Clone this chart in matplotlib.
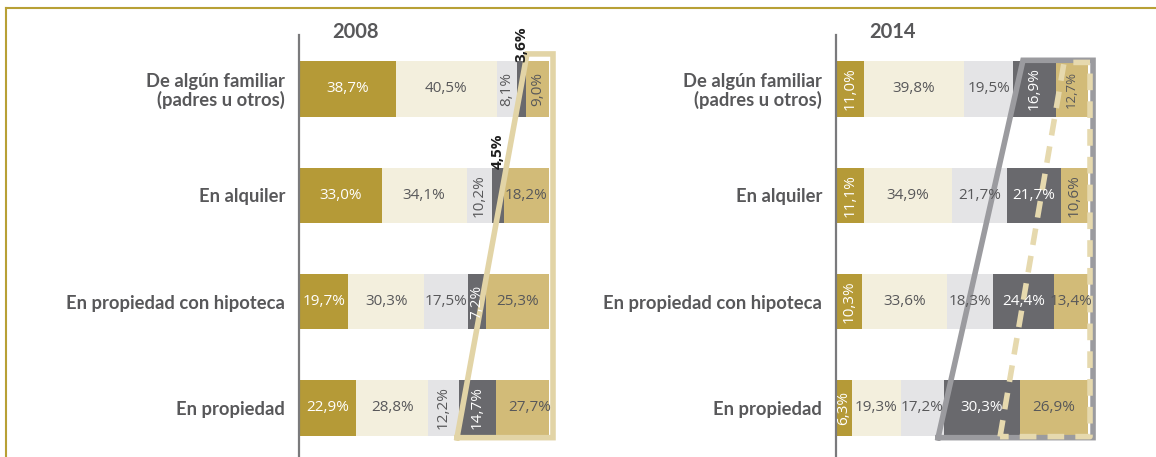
import numpy as np
import matplotlib.pyplot as plt
from matplotlib.lines import Line2D

# data
categories = ["De algún familiar\n(padres u otros)", "En alquiler",
              "En propiedad con hipoteca", "En propiedad"]
years = ["2008", "2014"]
vals_2008 = [[38.7, 40.5, 8.1, 3.6, 9.0],
             [33.0, 34.1, 10.2, 4.5, 18.2],
             [19.7, 30.3, 17.5, 7.2, 25.3],
             [22.9, 28.8, 12.2, 14.7, 27.7]]
vals_2014 = [[11.0, 39.8, 19.5, 16.9, 12.7],
             [11.1, 34.9, 21.7, 21.7, 10.6],
             [10.3, 33.6, 18.3, 24.4, 13.4],
             [6.3, 19.3, 17.2, 30.3, 26.9]]

# decorative outlines, in (percent, row) units
outline_2008 = [(63.2, 3.28), (91.2, -0.33), (101.6, -0.33), (101.6, 3.28)]
outline_2014_gray = [(40.5, 3.28), (74.2, -0.27), (102.0, -0.27), (102.0, 3.28)]
outline_2014_dash = [(65.1, 3.27), (90.5, -0.25), (100.8, -0.25), (100.8, 3.27)]

seg_colors = ['#B59A37', '#F3EFDD', '#E4E4E6', '#69696D', '#D2BB78']
txt_colors = ['white', '#58585A', '#58585A', 'white', '#58585A']
rot_2008 = [[0, 0, 1, 1, 1], [0, 0, 1, 1, 0], [0, 0, 0, 1, 0], [0, 0, 1, 1, 0]]
rot_2014 = [[1, 0, 0, 1, 1], [1, 0, 0, 0, 1], [1, 0, 0, 0, 0], [1, 0, 0, 0, 0]]

plt.rcParams['font.family'] = ['Lato', 'DejaVu Sans']
num_font = ['Open Sans', 'DejaVu Sans']

W, H = 1156, 457
fig = plt.figure(figsize=(W / 100, H / 100), dpi=100)

# gold frame (top + left)
frame_c = '#B8A035'
fig.add_artist(Line2D([6 / W, 1], [1 - 8 / H, 1 - 8 / H], color=frame_c, lw=1.5))
fig.add_artist(Line2D([6 / W, 6 / W], [0, 1 - 8 / H], color=frame_c, lw=1.5))

row_px = 106.3
top_row = (35 - 89) / row_px
bot_row = (457 - 89) / row_px


def panel(x0, x1, vals, year):
    ax = fig.add_axes([x0 / W, 0, (x1 - x0) / W, (457 - 35) / H])
    vals = np.array(vals)
    rows = np.arange(len(categories))
    left = np.zeros(len(categories))
    for j in range(vals.shape[1]):
        ax.barh(rows, vals[:, j], left=left, height=0.52, color=seg_colors[j], zorder=2)
        left += vals[:, j]
    ax.set_xlim(0, 100)
    ax.set_ylim(bot_row, top_row)
    ax.set_yticks(rows)
    ax.set_yticklabels(categories, fontsize=13.2, fontweight='bold', color='#58585A',
                       linespacing=1.05)
    ax.tick_params(axis='y', length=0, pad=10)
    ax.set_xticks([])
    for s in ['top', 'right', 'bottom']:
        ax.spines[s].set_visible(False)
    ax.spines['left'].set_color('#7A7A7C')
    ax.spines['left'].set_linewidth(1.6)
    ax.patch.set_alpha(0)
    fig.text((x0 + 33) / W, 1 - 22 / H, year, fontsize=14.5, fontweight='bold',
             color='#58585A', ha='left', va='top')
    return ax


def labels(ax, vals, rots, outside=(), small=()):
    for i, row in enumerate(vals):
        cum = 0
        for j, v in enumerate(row):
            c = cum + v / 2
            s = f"{v:.1f}%".replace('.', ',')
            rot = 90 if rots[i][j] else 0
            fs = 9.5 if (i, j) in small else 11
            if (i, j) in outside:
                ax.text(c, i - 0.25, s, rotation=90, ha='center', va='bottom',
                        fontsize=11, fontweight='bold', color='#1E1E1E', zorder=6,
                        family=num_font)
            else:
                ax.text(c, i, s, rotation=rot, ha='center', va='center', fontsize=fs,
                        fontweight='medium', color=txt_colors[j], zorder=6,
                        family=num_font)
            cum += v


ax1 = panel(299, 549, vals_2008, years[0])
xs, ys = zip(*(outline_2008 + [outline_2008[0]]))
ax1.plot(xs, ys, color='#E2D4A6', lw=4, clip_on=False, zorder=4, solid_joinstyle='miter')
labels(ax1, vals_2008, rot_2008, outside=[(0, 3), (1, 3)])

ax2 = panel(836, 1088, vals_2014, years[1])
xs, ys = zip(*(outline_2014_gray + [outline_2014_gray[0]]))
ax2.plot(xs, ys, color='#9B9B9F', lw=4, clip_on=False, zorder=4, solid_joinstyle='miter')
xs, ys = zip(*(outline_2014_dash + [outline_2014_dash[0]]))
ax2.plot(xs, ys, color='#E6D9AE', lw=4, clip_on=False, zorder=5, dashes=(3, 2))
labels(ax2, vals_2014, rot_2014, small=[(0, 4)])

fig.savefig('out.png', dpi=100)
